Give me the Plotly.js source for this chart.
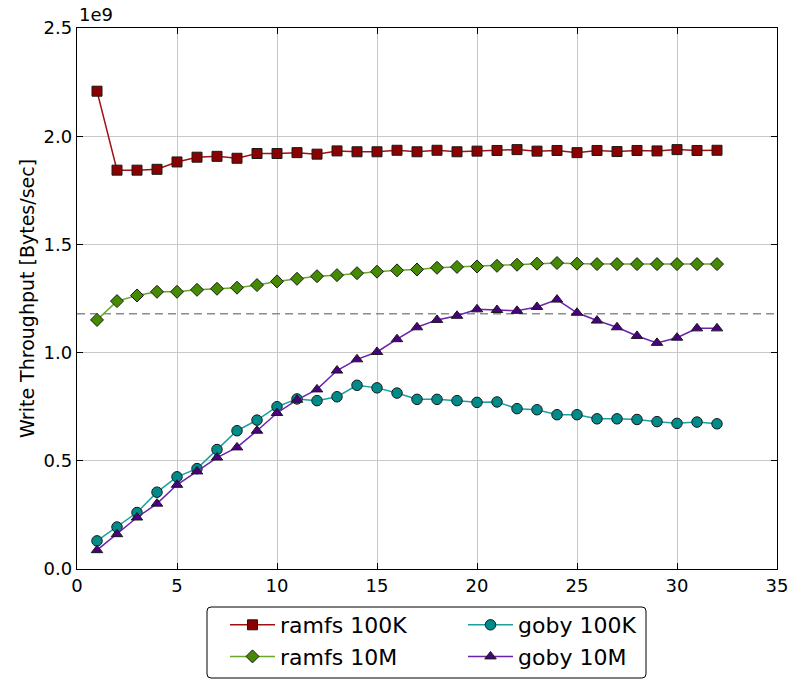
<!DOCTYPE html>
<html>
<head>
<meta charset="utf-8">
<script src="https://cdn.plot.ly/plotly-3.0.1.min.js"></script>
<style>html,body{margin:0;padding:0;background:#fff;}#chart{width:796px;height:681px;}</style>
</head>
<body>
<div id="chart"></div>
<script>
// Values in units of 1e9 Bytes/sec
var threads = [1,2,3,4,5,6,7,8,9,10,11,12,13,14,15,16,17,18,19,20,21,22,23,24,25,26,27,28,29,30,31,32];
var ramfs100K = [2.208,1.843,1.843,1.847,1.881,1.903,1.907,1.898,1.920,1.920,1.924,1.917,1.932,1.928,1.928,1.935,1.928,1.935,1.928,1.931,1.934,1.938,1.931,1.934,1.924,1.934,1.929,1.934,1.932,1.938,1.934,1.935];
var ramfs10M = [1.151,1.238,1.264,1.281,1.281,1.290,1.295,1.300,1.312,1.329,1.341,1.353,1.358,1.367,1.374,1.380,1.384,1.392,1.396,1.398,1.401,1.406,1.411,1.414,1.411,1.409,1.409,1.409,1.409,1.409,1.409,1.409];
var goby100K = [0.130,0.194,0.261,0.355,0.426,0.464,0.552,0.639,0.688,0.750,0.786,0.778,0.796,0.849,0.837,0.813,0.784,0.784,0.778,0.770,0.772,0.741,0.736,0.713,0.713,0.694,0.694,0.691,0.681,0.673,0.679,0.671];
var goby10M = [0.087,0.161,0.238,0.302,0.389,0.451,0.515,0.562,0.639,0.721,0.782,0.830,0.917,0.969,1.003,1.062,1.117,1.151,1.170,1.200,1.197,1.193,1.211,1.245,1.184,1.148,1.117,1.077,1.045,1.069,1.112,1.112];
var referenceLevel = 1.18;
var refX = [0, 35];
var yTickVals = [0, 0.5, 1.0, 1.5, 2.0, 2.5];
var yTickText = ['0.0','0.5','1.0','1.5','2.0','2.5'];
var xTickVals = [0,5,10,15,20,25,30,35];

var font = 'DejaVu Sans, Liberation Sans, sans-serif';

var traces = [
  {x: refX, y: [referenceLevel, referenceLevel], mode: 'lines', showlegend: false, hoverinfo: 'skip',
   line: {color: '#8c8c8c', width: 1.5, dash: '8px,5px'}},
  {x: threads, y: ramfs100K, name: 'ramfs 100K', mode: 'lines+markers', legend: 'legend',
   line: {color: '#a01010', width: 1.5},
   marker: {symbol: 'square', size: 10, color: '#8b0000', line: {color: '#1a1a1a', width: 1}}},
  {x: threads, y: ramfs10M, name: 'ramfs 10M', mode: 'lines+markers', legend: 'legend',
   line: {color: '#6aa82a', width: 1.5},
   marker: {symbol: 'diamond', size: 10, color: '#458b00', line: {color: '#1a1a1a', width: 1}}},
  {x: threads, y: goby100K, name: 'goby 100K', mode: 'lines+markers', legend: 'legend2',
   line: {color: '#1aa0a0', width: 1.5},
   marker: {symbol: 'circle', size: 10.5, color: '#008b8b', line: {color: '#1a1a1a', width: 1}}},
  {x: threads, y: goby10M, name: 'goby 10M', mode: 'lines+markers', legend: 'legend2',
   line: {color: '#6a22b0', width: 1.5},
   marker: {symbol: 'triangle-up', size: 10, color: '#4b0082', line: {color: '#1a1a1a', width: 1}}}
];

// legend frame (paper coords) with slightly rounded corners
var px = 1/700, py = 1/541;
var bx0 = (207-77)*px, bx1 = (646-77)*px, by0 = (569-607)*py, by1 = (569-678)*py;
var rx = 4*px, ry = 4*py;
var framePath = 'M' + (bx0+rx) + ',' + by0 + ' L' + (bx1-rx) + ',' + by0 +
  ' Q' + bx1 + ',' + by0 + ' ' + bx1 + ',' + (by0-ry) +
  ' L' + bx1 + ',' + (by1+ry) + ' Q' + bx1 + ',' + by1 + ' ' + (bx1-rx) + ',' + by1 +
  ' L' + (bx0+rx) + ',' + by1 + ' Q' + bx0 + ',' + by1 + ' ' + bx0 + ',' + (by1+ry) +
  ' L' + bx0 + ',' + (by0-ry) + ' Q' + bx0 + ',' + by0 + ' ' + (bx0+rx) + ',' + by0 + ' Z';

var legendCommon = {orientation: 'v', yanchor: 'top', xanchor: 'left',
  bgcolor: 'rgba(0,0,0,0)', borderwidth: 0, font: {family: font, size: 22}, itemwidth: 45, traceorder: 'normal'};

var layout = {
  width: 796, height: 681,
  margin: {l: 77, r: 19, t: 28, b: 112, autoexpand: false},
  paper_bgcolor: '#ffffff', plot_bgcolor: '#ffffff',
  font: {family: font, size: 18, color: '#000'},
  xaxis: {range: [0, 35], tickvals: xTickVals, ticks: 'inside', ticklen: 6, tickcolor: '#000',
    showline: true, linecolor: '#000', linewidth: 1.2, mirror: 'ticks',
    showgrid: true, gridcolor: '#c8c8c8', gridwidth: 1, zeroline: false,
    tickfont: {family: font, size: 18}},
  yaxis: {range: [0, 2.5], tickvals: yTickVals, ticktext: yTickText, ticks: 'inside', ticklen: 6, tickcolor: '#000',
    showline: true, linecolor: '#000', linewidth: 1.2, mirror: 'ticks',
    showgrid: true, gridcolor: '#c8c8c8', gridwidth: 1, zeroline: false,
    tickfont: {family: font, size: 18},
    title: {text: 'Write Throughput [Bytes/sec]', font: {family: font, size: 19}, standoff: 4}},
  showlegend: true,
  legend: Object.assign({}, legendCommon, {x: (225-77)*px, y: (569-604)*py}),
  legend2: Object.assign({}, legendCommon, {x: (463-77)*px, y: (569-604)*py}),
  shapes: [{type: 'path', xref: 'paper', yref: 'paper', path: framePath,
    line: {color: '#000', width: 1}, fillcolor: 'rgba(0,0,0,0)', layer: 'below'}],
  annotations: [{xref: 'paper', yref: 'paper', x: 0, y: 1, xanchor: 'left', yanchor: 'bottom', yshift: 1,
    text: '1e9', showarrow: false, font: {family: font, size: 18}}]
};

Plotly.newPlot('chart', traces, layout, {displayModeBar: false, staticPlot: true});
</script>
</body>
</html>
